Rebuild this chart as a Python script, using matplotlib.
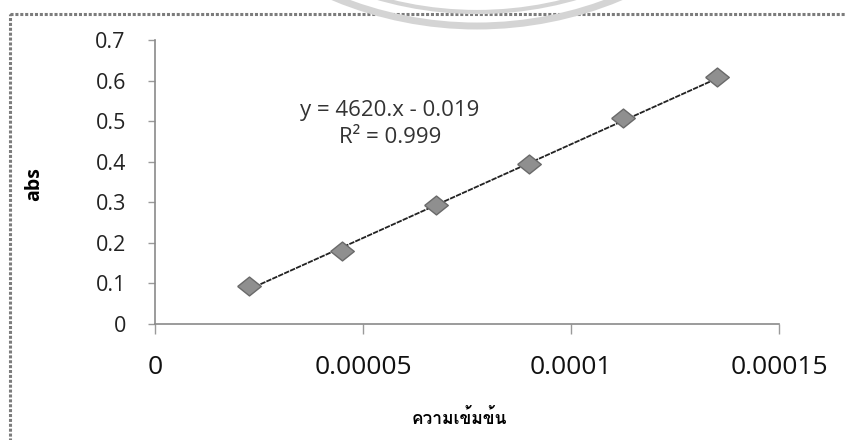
import matplotlib
matplotlib.use('Agg')
import matplotlib.pyplot as plt
from matplotlib import patches
from matplotlib import font_manager
from matplotlib.ft2font import FT2Font

# Calibration data
conc = [0.0000225, 0.000045, 0.0000675, 0.00009, 0.0001125, 0.000135]
absorb = [0.093, 0.181, 0.293, 0.394, 0.508, 0.609]
x_ticks = [0, 0.00005, 0.0001, 0.00015]
x_tick_labels = ['0', '0.00005', '0.0001', '0.00015']
y_ticks = [0, 0.1, 0.2, 0.3, 0.4, 0.5, 0.6, 0.7]
y_tick_labels = ['0', '0.1', '0.2', '0.3', '0.4', '0.5', '0.6', '0.7']
slope, intercept, r2 = 4620, -0.019, 0.999
x_title = 'ความเข้มข้น'
y_title = 'abs'


def _find_font_with(char):
    """Return the name of an installed font that has a glyph for char."""
    for f in font_manager.fontManager.ttflist:
        try:
            if ord(char) in FT2Font(f.fname).get_charmap():
                return f.name
        except Exception:
            pass
    return None


thai_font = _find_font_with('ค')
thai_family = [thai_font, 'DejaVu Sans'] if thai_font else ['DejaVu Sans']
plt.rcParams['font.family'] = ['Open Sans', 'DejaVu Sans']

W, H = 846, 440
fig = plt.figure(figsize=(W / 100, H / 100), dpi=100)

# background layer in pixel coords: scan frame and watermark ring
bg = fig.add_axes([0, 0, 1, 1], zorder=0)
bg.set_xlim(0, W)
bg.set_ylim(H, 0)
bg.axis('off')
bg.add_patch(patches.Rectangle((10, 14), W + 20, H + 20, fill=False,
                               edgecolor='#7c7c7c', linewidth=2.2,
                               linestyle=(0, (1, 0.6))))
for r, lw in [(372, 5), (358, 3)]:
    bg.add_patch(patches.Arc((477, -346), 2 * r, 2 * r, theta1=0, theta2=180,
                             edgecolor='#d4d4d4', linewidth=lw))

ax = fig.add_axes([155 / W, 1 - 324 / H, (779 - 155) / W, (324 - 40) / H],
                  zorder=1)
ax.patch.set_alpha(0)

# scan is stretched sideways, so the diamonds are wider than tall
diamond = [(-1, 0), (0, 0.8), (1, 0), (0, -0.8), (-1, 0)]

# trendline drawn over the data range
xs = [conc[0], conc[-1]]
ax.plot(xs, [slope * v + intercept for v in xs], color='#222222',
        linewidth=1.3, linestyle=(0, (3, 0.6)), zorder=2)
ax.plot(conc, absorb, linestyle='none', marker=diamond, markersize=17,
        markerfacecolor='#8f8f8f', markeredgecolor='#6a6a6a',
        markeredgewidth=1, zorder=3)

ax.set_xlim(0, 0.00015)
ax.set_ylim(0, 0.7)
ax.set_xticks(x_ticks)
ax.set_xticklabels(x_tick_labels, fontsize=19, color='#111111')
ax.set_yticks(y_ticks)
ax.set_yticklabels(y_tick_labels, fontsize=15.5, color='#222222')
ax.tick_params(axis='x', length=7, width=1, color='#9a9a9a', pad=15,
               direction='out')
ax.tick_params(axis='y', length=5, width=1, color='#9a9a9a', pad=16,
               direction='out')

for side in ['top', 'right']:
    ax.spines[side].set_visible(False)
for side in ['left', 'bottom']:
    ax.spines[side].set_color('#8a8a8a')
    ax.spines[side].set_linewidth(1.2)
    ax.spines[side].set_linestyle((0, (1, 1)))

ax.set_xlabel(x_title, family=thai_family, fontsize=12.5, fontweight='bold')
ax.xaxis.set_label_coords(0.487, -0.296)
ax.set_ylabel(y_title, fontsize=14, fontweight='bold')
ax.yaxis.set_label_coords(-0.178, 0.493)

ax.text(0.0000565, 0.527, 'y = %d.x - %.3f' % (slope, -intercept),
        fontsize=16, color='#333333', ha='center', va='center')
ax.text(0.0000565, 0.459, 'R² = %.3f' % r2,
        fontsize=16, color='#333333', ha='center', va='center')

fig.savefig('out.png', dpi=100)
